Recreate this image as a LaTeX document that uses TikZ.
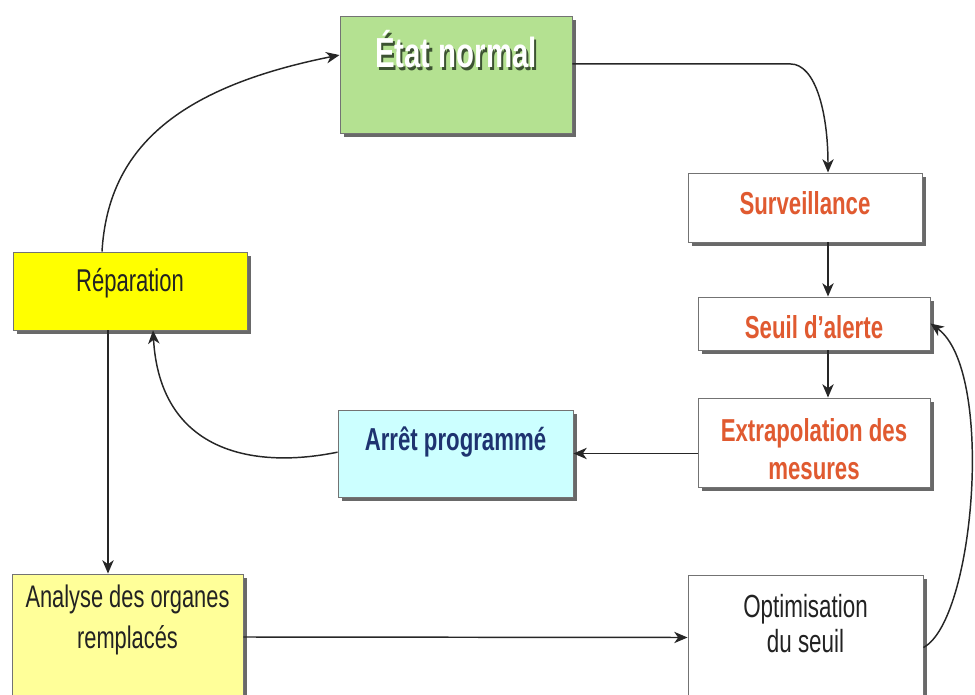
\documentclass[tikz,border=0pt]{standalone}
\usepackage{fontspec}
\setmainfont{Liberation Sans}[FakeStretch=0.7]
\usetikzlibrary{arrows.meta,shadows}

\definecolor{etatfill}{HTML}{B4E191}
\definecolor{etatshade}{HTML}{3C5232}
\definecolor{repfill}{HTML}{FFFF00}
\definecolor{arretfill}{HTML}{CCFFFF}
\definecolor{anafill}{HTML}{FFFF99}
\definecolor{alertred}{HTML}{E05A30}
\definecolor{navy}{HTML}{1E3370}
\definecolor{ink}{HTML}{222222}

% white lettering with a dark offset copy behind it
\newcommand\embossed[1]{\makebox[0pt][l]{\hspace{1.6pt}\raisebox{-1.6pt}{\textcolor{etatshade}{#1}}}\textcolor{white}{#1}}
% place a single line with its baseline #1 above the box centre
\newcommand\linetxt[2]{\raisebox{#1}[0pt][0pt]{#2}}
% place a block of lines, last baseline #1 above the box centre
\newcommand\blocktxt[2]{\raisebox{#1}[0pt][0pt]{\begin{tabular}[b]{@{}c@{}}#2\end{tabular}}}

\tikzset{
  box/.style={draw=black!55, line width=0.7pt, inner sep=0pt,
    drop shadow={shadow xshift=3pt, shadow yshift=-3pt, fill=black!65, opacity=0.9}},
  sz/.style 2 args={minimum width=#1*0.75pt, minimum height=#2*0.75pt},
  redtxt/.style={text=alertred, font=\bfseries\fontsize{23.8}{28.5}\selectfont},
  plaintxt/.style={text=ink, font=\fontsize{23.6}{28.5}\selectfont},
  arr/.style={draw=black!85, line width=1.1pt, -{Stealth[length=10pt,width=8.5pt,inset=3pt]}},
}

\begin{document}
\begin{tikzpicture}[x=0.75pt, y=-0.75pt]
\useasboundingbox (0,0) rectangle (975,695);
\clip (0,0) rectangle (975,695);

% boxes
\node[box, sz={232}{117}, fill=etatfill, font=\bfseries\fontsize{31.5}{36}\selectfont]
  (etat) at (456,74.5) {\linetxt{4.9pt}{\embossed{État normal}}};
\node[box, sz={234}{69}, fill=white, redtxt] (surv) at (805,207.5)
  {\linetxt{-4.9pt}{Surveillance}};
\node[box, sz={232}{53}, fill=white, redtxt] (seuil) at (814,323.5)
  {\linetxt{-10.9pt}{Seuil d’alerte}};
\node[box, sz={232}{89}, fill=white, redtxt] (extra) at (814,442.5)
  {\blocktxt{-28.1pt}{Extrapolation des\\ mesures}};
\node[box, sz={234}{78}, fill=repfill, plaintxt] (repar) at (130,291)
  {\linetxt{-0.75pt}{Réparation}};
\node[box, sz={235}{87}, fill=arretfill, text=navy,
  font=\bfseries\fontsize{23.8}{28.5}\selectfont] (arret) at (455.5,453.5)
  {\linetxt{2.6pt}{Arrêt programmé}};
\node[box, sz={231}{146}, fill=anafill, text=ink,
  font=\fontsize{23.4}{30.75}\selectfont] (analyse) at (127.5,647)
  {\blocktxt{-0.75pt}{Analyse des organes\\ remplacés}};
\node[box, sz={235}{145}, fill=white, text=ink,
  font=\fontsize{24}{26.25}\selectfont] (optim) at (805.5,647.5)
  {\blocktxt{-4.1pt}{Optimisation\\ du seuil}};

% columns used by the vertical connectors
\coordinate (col) at (828,0);
\coordinate (repup) at (102,0);
\coordinate (repdown) at (108,0);
\coordinate (repin) at (153,0);

% connectors
\draw[arr] ([yshift=7.9pt]etat.east) -- ++(218,0)
  .. controls +(25,0) and +(0,-60) .. (surv.north -| col);
\draw[arr] (surv.south -| col) -- (seuil.north -| col);
\draw[arr] (seuil.south -| col) -- (extra.north -| col);
\draw[arr] (extra.west |- arret.east) -- (arret.east);
\draw[arr] ([yshift=1pt]arret.west) .. controls (250,470) and (160,450) .. (repar.south -| repin);
\draw[arr] (repar.north -| repup) .. controls (108,150) and (175,88) .. ([yshift=14.6pt]etat.west);
\draw[arr] (repar.south -| repdown) -- (analyse.north -| repdown);
\draw[arr] ([yshift=7.5pt]analyse.east) -- ([yshift=7.5pt]optim.west);
\draw[arr] (optim.east) .. controls (975,620) and (995,370) .. (seuil.east);
\end{tikzpicture}
\end{document}
